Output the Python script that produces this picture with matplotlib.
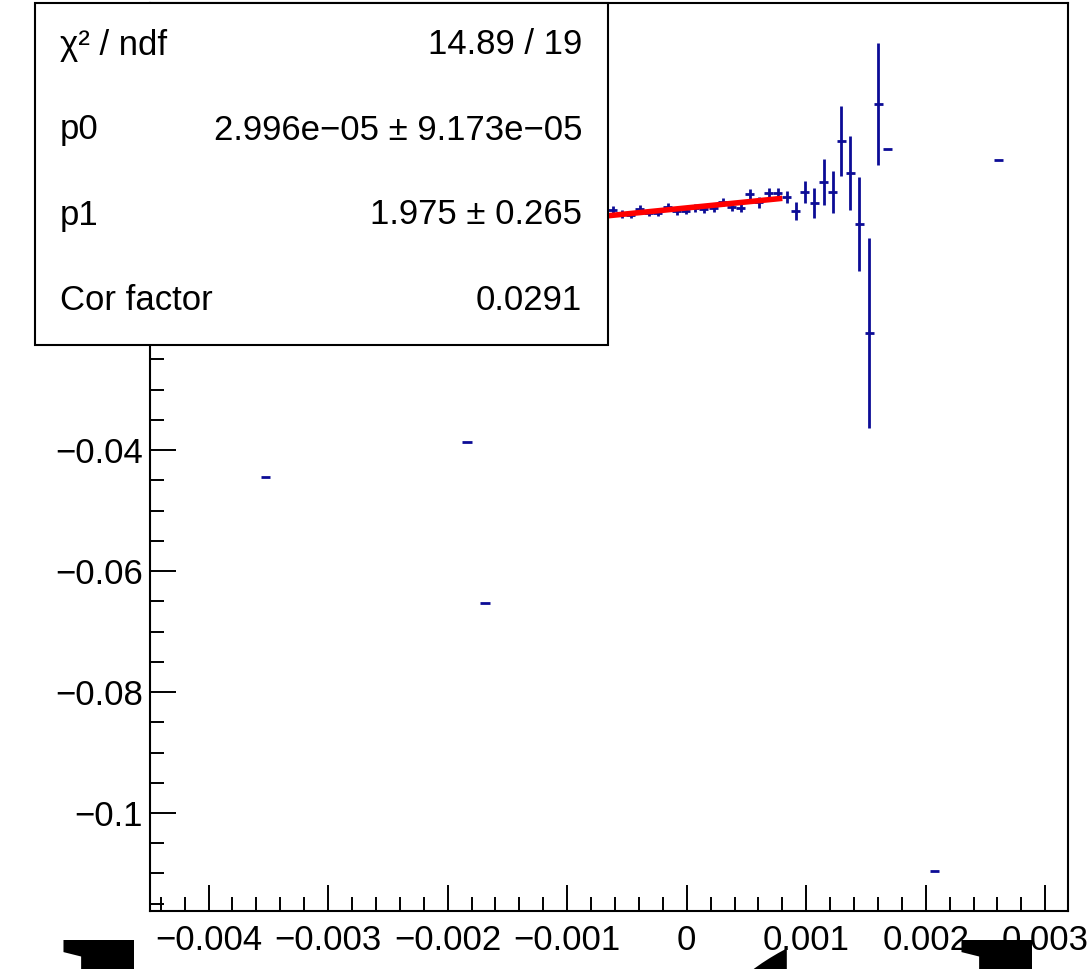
import matplotlib
matplotlib.use("Agg")
import matplotlib.pyplot as plt
import numpy as np
from matplotlib.patches import Rectangle
from matplotlib.ticker import MultipleLocator, FuncFormatter


# ---------------- Data ---------------- #
# profile bin centres, bin mean and error on the mean
x_vals = [-0.003526, -0.001838, -0.001688,
          -0.000618, -0.000543, -0.000468, -0.000393, -0.000318, -0.000242,
          -0.000159, -0.000084, -0.000008, 0.000067, 0.000142, 0.000226,
          0.000301, 0.000376, 0.000451, 0.000526, 0.000602, 0.000685,
          0.000760, 0.000835, 0.000911, 0.000986, 0.001069, 0.001145,
          0.001220, 0.001295, 0.001370, 0.001445, 0.001529, 0.001604,
          0.001679, 0.002072, 0.002607]
y_vals = [-0.04447, -0.03868, -0.06529,
          -0.00033, -0.00099, -0.00116, -0.00017, -0.00083, -0.00083,
          0.00017, -0.00050, -0.00050, 0.00000, -0.00017, 0.00000,
          0.00099, 0.00017, 0.00000, 0.00231, 0.00099, 0.00248,
          0.00248, 0.00182, -0.00050, 0.00264, 0.00083, 0.00430,
          0.00264, 0.01108, 0.00578, -0.00264, -0.02066, 0.01719,
          0.00975, -0.10960, 0.00793]
y_errs = [0.0, 0.0, 0.0,
          0.0006, 0.0007, 0.0005, 0.0006, 0.0005, 0.0005,
          0.0006, 0.0006, 0.0005, 0.0006, 0.0006, 0.0007,
          0.0007, 0.0006, 0.0007, 0.0008, 0.0009, 0.0008,
          0.0009, 0.0010, 0.0015, 0.0018, 0.0025, 0.0038,
          0.0035, 0.0058, 0.0061, 0.0078, 0.0157, 0.0101,
          0.0, 0.0, 0.0]
x_half_width = 0.0000384

# pol1 fit result
p0, p0_err = 2.996e-05, 9.173e-05
p1, p1_err = 1.975, 0.265
chi2, ndf = 14.89, 19
cor_factor = 0.0291
fit_range = [-0.0008, 0.0008]

stat_labels = ["\u03c7\u00b2 / ndf", "p0", "p1", "Cor factor"]
stat_values = ["14.89 / 19",
               "2.996e\u221205 \u00b1 9.173e\u221205",
               "1.975 \u00b1 0.265",
               "0.0291"]


# ---------------- Helpers ---------------- #
def root_fmt(v, pos=None):
    s = "%g" % round(v, 10)
    if s == "-0":
        s = "0"
    return s.replace("-", "\u2212")


def px(x, y, W=1089, H=969):
    # figure pixel -> figure fraction
    return x / W, 1 - y / H


# ---------------- Plot ---------------- #
plt.rcParams["font.family"] = ["Liberation Sans", "DejaVu Sans"]

W, H = 1089, 969
fig = plt.figure(figsize=(W / 100, H / 100), dpi=100)
ax = fig.add_axes([150 / W, 1 - 911 / H, (1068 - 150) / W, (911 - 3) / H])

ax.errorbar(x_vals, y_vals, xerr=x_half_width, yerr=y_errs, fmt="none",
            ecolor="#0c0c96", elinewidth=2.0, capsize=0, zorder=2)

xf = np.linspace(fit_range[0], fit_range[1], 50)
ax.plot(xf, p0 + p1 * xf, color="#ff0000", lw=4.0, zorder=3,
        solid_capstyle="butt")

ax.set_xlim(-0.00449, 0.00319)
ax.set_ylim(-0.1162, 0.0339)

ax.xaxis.set_major_locator(MultipleLocator(0.001))
ax.xaxis.set_minor_locator(MultipleLocator(0.0002))
ax.yaxis.set_major_locator(MultipleLocator(0.02))
ax.yaxis.set_minor_locator(MultipleLocator(0.005))
ax.xaxis.set_major_formatter(FuncFormatter(root_fmt))
ax.yaxis.set_major_formatter(FuncFormatter(root_fmt))

ax.tick_params(which="both", direction="in", top=False, right=False,
               width=1.4, labelsize=25, colors="black")
ax.tick_params(which="major", length=19)
ax.tick_params(which="minor", length=10)
ax.tick_params(axis="x", pad=9)
ax.tick_params(axis="y", pad=5)
for sp in ax.spines.values():
    sp.set_linewidth(1.5)

# ---------------- Stats box ---------------- #
x0, y0 = px(35, 345)
x1, y1 = px(608, 3)
box = Rectangle((x0, y0), x1 - x0, y1 - y0, transform=fig.transFigure,
                facecolor="white", edgecolor="black", lw=1.5, zorder=5)
fig.add_artist(box)

rows_y = [45, 130, 215, 300]
for lab, val, ry in zip(stat_labels, stat_values, rows_y):
    fig.text(*px(60, ry), lab, ha="left", va="center", fontsize=25, zorder=6)
    fig.text(*px(582, ry), val, ha="right", va="center", fontsize=25, zorder=6)

# clipped big glyphs peeking in at the bottom edge
for gx, gy, g in [(55, 940, "l"), (673, 948, "("), (953, 940, "l")]:
    fig.text(*px(gx, gy), g, ha="left", va="top", fontsize=270,
             family="Liberation Serif", weight="bold", color="black")

fig.savefig("out.png", dpi=100)
